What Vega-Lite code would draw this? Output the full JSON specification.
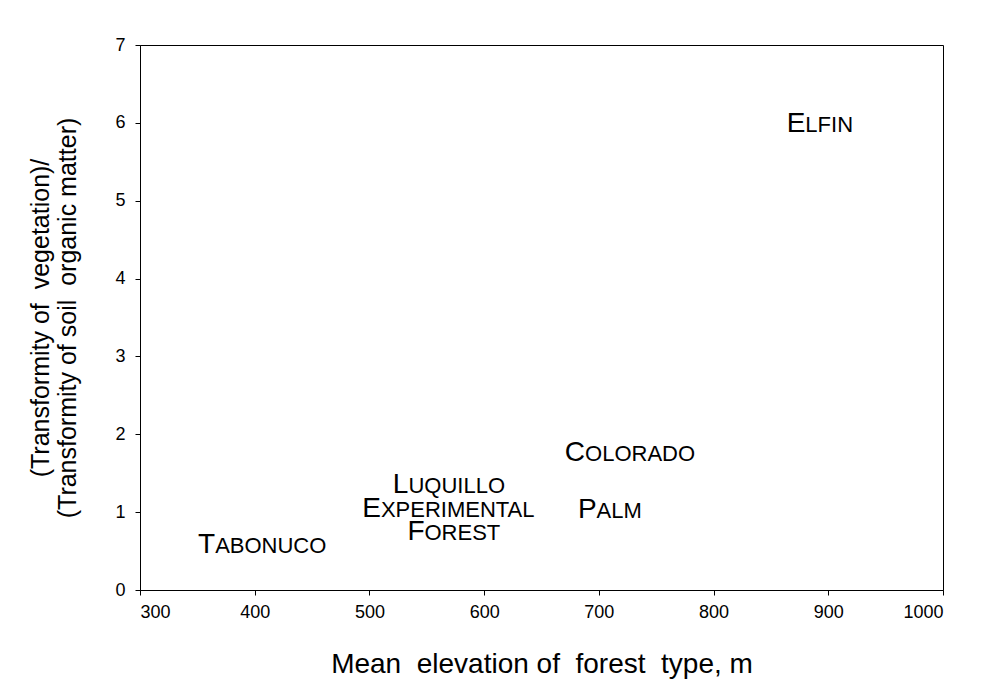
{
  "$schema": "https://vega.github.io/schema/vega-lite/v6.json",
  "autosize": "none",
  "padding": {"left": 140, "top": 45, "right": 64, "bottom": 105},
  "width": 803,
  "height": 545,
  "background": "white",
  "config": {
    "font": "Liberation Sans",
    "view": {"stroke": "black", "strokeWidth": 1},
    "axis": {
      "grid": false,
      "domainColor": "black",
      "tickColor": "black",
      "tickSize": 5,
      "labelColor": "black",
      "labelFont": "Liberation Sans",
      "labelFontSize": 18,
      "titleColor": "black",
      "titleFont": "Liberation Sans",
      "titleFontWeight": "normal"
    }
  },
  "data": {
    "values": [
      {"site": "Tabonuco", "first": "T", "rest": "ABONUCO", "elevation": 365.5, "ratio": 0.6},
      {"site": "Luquillo Experimental Forest", "first": "L", "rest": "UQUILLO", "elevation": 534, "ratio": 1.38},
      {"site": "Luquillo Experimental Forest", "first": "E", "rest": "XPERIMENTAL", "elevation": 510, "ratio": 1.06},
      {"site": "Luquillo Experimental Forest", "first": "F", "rest": "OREST", "elevation": 548, "ratio": 0.77},
      {"site": "Palm", "first": "P", "rest": "ALM", "elevation": 698, "ratio": 1.05},
      {"site": "Colorado", "first": "C", "rest": "OLORADO", "elevation": 688, "ratio": 1.78},
      {"site": "Elfin", "first": "E", "rest": "LFIN", "elevation": 880, "ratio": 6.01}
    ]
  },
  "encoding": {
    "x": {
      "field": "elevation",
      "type": "quantitative",
      "scale": {"domain": [300, 1000], "nice": false, "zero": false},
      "axis": {
        "values": [300, 400, 500, 600, 700, 800, 900, 1000],
        "format": "d",
        "labelPadding": 8,
        "title": "Mean\u00a0 elevation of\u00a0 forest\u00a0 type, m",
        "titleFontSize": 28,
        "titlePadding": 29
      }
    },
    "y": {
      "field": "ratio",
      "type": "quantitative",
      "scale": {"domain": [0, 7], "nice": false},
      "axis": {
        "values": [0, 1, 2, 3, 4, 5, 6, 7],
        "labelPadding": 10,
        "title": ["(Transformity of\u00a0 vegetation)/", "(Transformity of soil\u00a0 organic matter)"],
        "titleFontSize": 25,
        "titleLineHeight": 27,
        "titlePadding": 34
      }
    }
  },
  "layer": [
    {
      "mark": {"type": "text", "align": "right", "baseline": "alphabetic", "dy": 10, "fontSize": 28, "color": "black"},
      "encoding": {"text": {"field": "first"}}
    },
    {
      "mark": {"type": "text", "align": "left", "baseline": "alphabetic", "dy": 10, "fontSize": 22, "color": "black"},
      "encoding": {"text": {"field": "rest"}}
    }
  ]
}
